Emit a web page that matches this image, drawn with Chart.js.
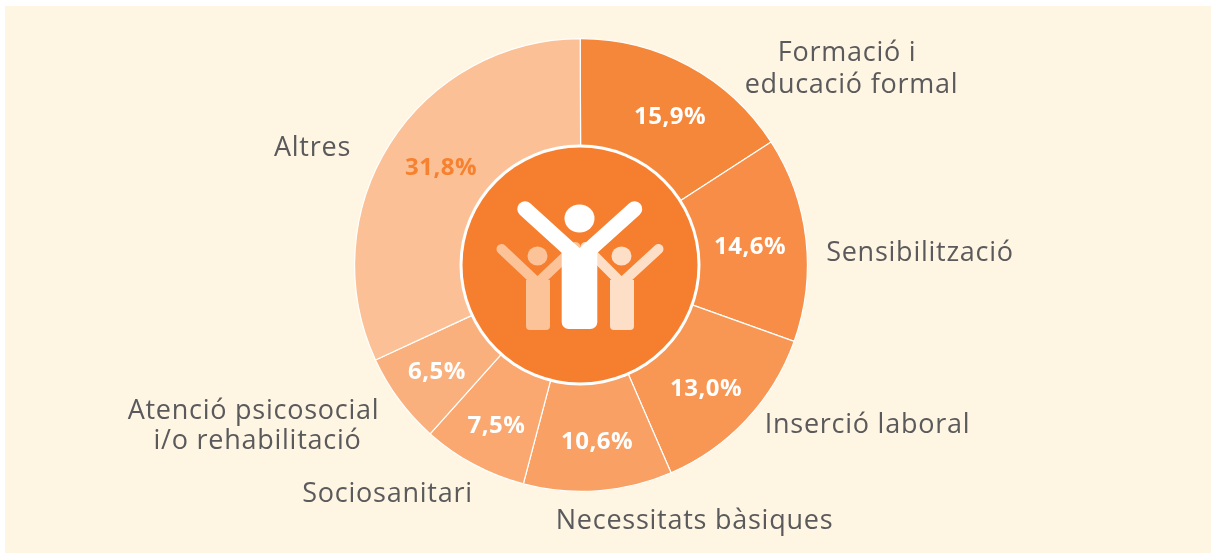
<!DOCTYPE html>
<html><head><meta charset="utf-8">
<style>html,body{margin:0;padding:0;background:#fff;overflow:hidden}canvas{display:block}</style>
<script src="https://cdn.jsdelivr.net/npm/chart.js@4"></script></head>
<body><canvas id="c" width="1211" height="553"></canvas>
<script>
const categories=["Formació i|educació formal","Sensibilització","Inserció laboral","Necessitats bàsiques","Sociosanitari","Atenció psicosocial|i/o rehabilitació","Altres"];
const values=[15.9,14.6,13.0,10.6,7.5,6.5,31.8];
const sliceColors=["#F5873B","#F78D46","#F89654","#F9A064","#FAA86F","#FAB07C","#FCC096"];
const pctColors=["#fff","#fff","#fff","#fff","#fff","#fff","#F6812F"];
// label placement relative to the donut centre, pixels
const pctOffsets=[[89.5,-148],[169.5,-18],[125.5,124],[16.5,177],[-84,161],[-143.5,107],[-139.5,-97]];
const catOffsets=[[[266.5,-212],[271,-179.5]],[[339.5,-12]],[[287,160]],[[114,256]],[[-193,229]],[[-327,146],[-323,176.5]],[[-268,-117]]];
const deco={id:'deco',
 beforeDraw(ch){const c=ch.ctx;c.save();c.fillStyle='#FEF5E3';c.fillRect(5,6,1206,547);c.restore();},
 afterDraw(ch){
  const c=ch.ctx,a=ch.getDatasetMeta(0).data[0],Y=a.y;
  const X=a.x-0.5;
  c.save();
  c.beginPath();c.arc(a.x-1,Y,120.5,0,7);c.fillStyle='#fff';c.fill();
  c.beginPath();c.arc(a.x-1,Y,117.5,0,7);c.fillStyle='#F67F2F';c.fill();
  const fig=(col,pts,w,hx,hy,rx,ry,bx,bw,bt,bb,rad)=>{
    c.strokeStyle=col;c.fillStyle=col;c.lineWidth=w;c.lineCap='round';c.lineJoin='round';
    c.beginPath();pts.forEach((p,i)=>i?c.lineTo(X+p[0],Y+p[1]):c.moveTo(X+p[0],Y+p[1]));c.stroke();
    c.beginPath();c.ellipse(X+hx,Y+hy,rx,ry,0,0,7);c.fill();
    c.beginPath();c.roundRect(X+bx,Y+bt,bw,bb-bt,[0,0,rad,rad]);c.fill();
  };
  fig('#FDDFC8',[[78,-16],[41,18],[5,-18]],10,41,-9,10,9.5,29.5,24,15,65,4);
  fig('#FCC298',[[-79,-16],[-43,18],[-5,-18]],10,-43,-9,10,9.5,-54.5,24,15,65,4);
  fig('#FFFFFF',[[-55.5,-56],[-1,-6.5],[54,-56]],15.5,-1,-46.5,15,14,-18.8,35.6,-15,64,7);
  c.textAlign='center';c.textBaseline='middle';
  c.font='700 24px "Open Sans"';c.letterSpacing='0.5px';
  values.forEach((v,i)=>{c.fillStyle=pctColors[i];
    c.fillText(v.toFixed(1).replace('.',',')+'%',X+pctOffsets[i][0],Y+pctOffsets[i][1]);});
  c.font='400 27px "Open Sans"';c.letterSpacing='0.75px';c.fillStyle='#5A5A5C';
  categories.forEach((t,i)=>{t.split('|').forEach((l,j)=>{
    const o=catOffsets[i][j];
    c.fillText(l,X+o[0],Y+o[1]);});});
  c.restore();
 }};
new Chart(document.getElementById('c'),{type:'doughnut',
 data:{labels:categories.map(s=>s.replace('|',' ')),datasets:[{data:values,backgroundColor:sliceColors,borderColor:'#fff',borderWidth:1.2,borderAlign:'center'}]},
 options:{responsive:false,animation:false,cutout:110,rotation:-0.2,
  layout:{padding:{left:0,right:49,top:38,bottom:61}},
  plugins:{legend:{display:false},tooltip:{enabled:false}}},
 plugins:[deco]});
</script></body></html>
